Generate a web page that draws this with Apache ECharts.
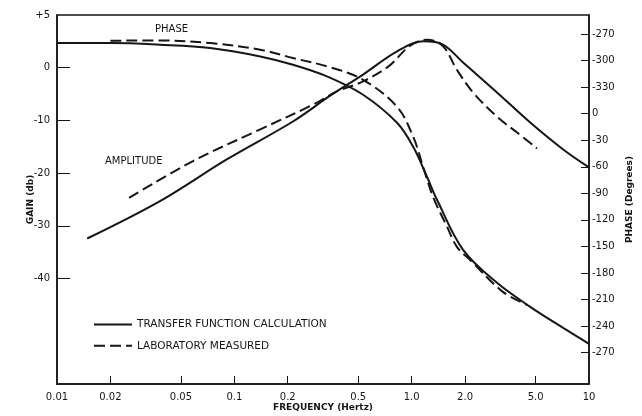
<!DOCTYPE html>
<html>
<head>
<meta charset="utf-8">
<script src="https://cdn.jsdelivr.net/npm/echarts@6/dist/echarts.min.js"></script>
<style>html,body{margin:0;padding:0;background:#fff}#c{width:642px;height:416px}</style>
</head>
<body>
<div id="c"></div>
<script>
// ---- data ----
const gainCalcFreq = [0.0148, 0.0381, 0.0906, 0.214, 0.347, 0.532, 0.827, 1.16, 1.50, 1.95, 3.03, 4.66, 7.15, 10];
const gainCalcDb   = [-32.4, -25.3, -17.4, -10.2, -5.3, -1.3, 3.1, 5.0, 4.4, 1.0, -4.7, -10.4, -15.5, -18.9];

const gainLabFreq = [0.0255, 0.0585, 0.140, 0.278, 0.379, 0.532, 0.75, 0.98, 1.22, 1.50, 1.80, 2.22, 3.03, 3.93, 5.09];
const gainLabDb   = [-24.7, -17.7, -11.7, -7.0, -4.5, -2.6, 0.4, 4.2, 5.3, 4.1, -0.4, -4.7, -9.3, -12.3, -15.3];

const phaseCalcFreq = [0.01, 0.02, 0.0381, 0.073, 0.140, 0.214, 0.333, 0.532, 0.827, 1.02, 1.22, 1.39, 1.95, 3.03, 4.66, 7.15, 10];
const phaseCalcDeg  = [79.8, 79.8, 77.9, 74.2, 64.7, 55.3, 42.1, 21.4, -10.3, -37.4, -71.3, -97.3, -153.9, -191.2, -218.3, -242.1, -260.2];

const phaseLabFreq = [0.02, 0.0381, 0.073, 0.140, 0.214, 0.347, 0.532, 0.827, 1.02, 1.16, 1.32, 1.585, 1.80, 2.13, 3.27, 4.48];
const phaseLabDeg  = [82.4, 82.8, 79.8, 72.3, 62.9, 52.5, 38.3, 7.8, -26.1, -60.0, -94.0, -127.9, -150.5, -165.2, -201.4, -216.1];

const xTickValues = [0.01, 0.02, 0.05, 0.1, 0.2, 0.5, 1, 2, 5, 10];
const xTickLabels = ['0.01', '0.02', '0.05', '0.1', '0.2', '0.5', '1.0', '2.0', '5.0', '10'];
const gainTickValues = [10, 0, -10, -20, -30, -40];
const gainTickLabels = ['+5', '0', '-10', '-20', '-30', '-40'];
const phaseTickValues = [90, 60, 30, 0, -30, -60, -90, -120, -150, -180, -210, -240, -270];
const phaseTickLabels = ['-270', '-300', '-330', '0', '-30', '-60', '-90', '-120', '-150', '-180', '-210', '-240', '-270'];

const seriesCalcName = 'TRANSFER FUNCTION CALCULATION';
const seriesLabName = 'LABORATORY MEASURED';

// ---- chart ----
const pair = (xs, ys) => xs.map((x, i) => [x, ys[i]]);
const lookup = (vals, labs) => v => {
  let best = 0;
  for (let i = 1; i < vals.length; i++) if (Math.abs(vals[i] - v) < Math.abs(vals[best] - v)) best = i;
  return labs[best];
};
const ink = '#151515';
const FONT = 'DejaVu Sans';

const chart = echarts.init(document.getElementById('c'), null, {renderer: 'canvas'});
chart.setOption({
  backgroundColor: '#ffffff',
  animation: false,
  grid: {left: 57, right: 53, top: 15, bottom: 32, show: true, borderColor: ink, borderWidth: 1.5, backgroundColor: 'transparent', outerBoundsMode: 'none', containLabel: false},
  legend: {
    orient: 'vertical', left: 88, top: 314, itemWidth: 38, itemHeight: 14, itemGap: 10,
    selectedMode: false,
    itemStyle: {opacity: 0},
    textStyle: {fontFamily: FONT, fontSize: 10.5, color: ink},
    data: [seriesCalcName, seriesLabName]
  },
  xAxis: {
    type: 'log', logBase: 10, min: 0.01, max: 10,
    name: 'FREQUENCY (Hertz)', nameLocation: 'middle', nameGap: 19, nameMoveOverlap: false,
    nameTextStyle: {fontFamily: FONT, fontSize: 9, fontWeight: 'bold', color: ink},
    axisLine: {show: true, onZero: false, lineStyle: {color: ink, width: 1.5}},
    axisTick: {show: true, inside: true, length: 8, lineStyle: {color: ink, width: 1}, customValues: xTickValues.slice(1, -1)},
    axisLabel: {show: true, margin: 8, fontFamily: FONT, fontSize: 10, color: ink, customValues: xTickValues, formatter: lookup(xTickValues, xTickLabels)},
    splitLine: {show: false}, minorTick: {show: false}
  },
  yAxis: [
    {
      type: 'value', min: -60, max: 10, position: 'left',
      name: 'GAIN (db)', nameLocation: 'middle', nameRotate: 90, nameGap: 22, nameMoveOverlap: false,
      nameTextStyle: {fontFamily: FONT, fontSize: 9, fontWeight: 'bold', color: ink},
      axisLine: {show: true, onZero: false, lineStyle: {color: ink, width: 1.5}},
      axisTick: {show: true, inside: true, length: 13, lineStyle: {color: ink, width: 1}, customValues: gainTickValues.slice(1)},
      axisLabel: {show: true, margin: 7, fontFamily: FONT, fontSize: 10, color: ink, customValues: gainTickValues, formatter: lookup(gainTickValues, gainTickLabels)},
      splitLine: {show: false}
    },
    {
      type: 'value', min: -305.5, max: 111.5, position: 'right',
      name: 'PHASE (Degrees)', nameLocation: 'middle', nameRotate: 90, nameGap: 36, nameMoveOverlap: false,
      nameTextStyle: {fontFamily: FONT, fontSize: 9, fontWeight: 'bold', color: ink},
      axisLine: {show: true, onZero: false, lineStyle: {color: ink, width: 1.5}},
      axisTick: {show: true, inside: true, length: 8, lineStyle: {color: ink, width: 1}, customValues: phaseTickValues},
      axisLabel: {show: true, margin: 3, fontFamily: FONT, fontSize: 10, color: ink, customValues: phaseTickValues, formatter: lookup(phaseTickValues, phaseTickLabels)},
      splitLine: {show: false}
    }
  ],
  series: [
    {name: seriesCalcName, type: 'line', yAxisIndex: 0, data: pair(gainCalcFreq, gainCalcDb), symbol: 'none', smooth: 0.35, lineStyle: {color: ink, width: 2}, itemStyle: {color: ink}},
    {name: seriesLabName, type: 'line', yAxisIndex: 0, data: pair(gainLabFreq, gainLabDb), symbol: 'none', smooth: 0.35, lineStyle: {color: ink, width: 2, type: [11, 5]}, itemStyle: {color: ink}},
    {name: seriesCalcName, type: 'line', yAxisIndex: 1, data: pair(phaseCalcFreq, phaseCalcDeg), symbol: 'none', smooth: 0.35, lineStyle: {color: ink, width: 2}, itemStyle: {color: ink}},
    {name: seriesLabName, type: 'line', yAxisIndex: 1, data: pair(phaseLabFreq, phaseLabDeg), symbol: 'none', smooth: 0.35, lineStyle: {color: ink, width: 2, type: [11, 5]}, itemStyle: {color: ink}}
  ],
  graphic: [
    {type: 'text', left: 155, top: 24, style: {text: 'PHASE', fontFamily: FONT, fontSize: 10, fill: ink}},
    {type: 'text', left: 105, top: 156, style: {text: 'AMPLITUDE', fontFamily: FONT, fontSize: 10, fill: ink}}
  ]
});
</script>
</body>
</html>
